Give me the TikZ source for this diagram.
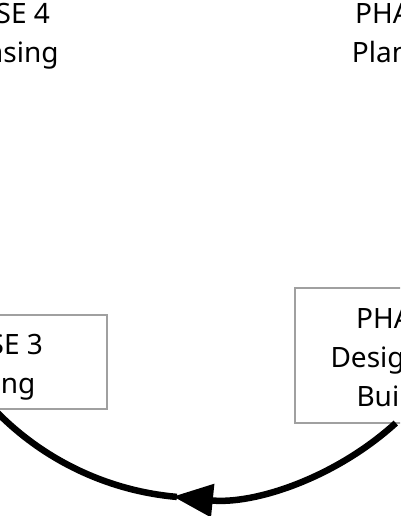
\documentclass[tikz,border=0pt]{standalone}
\usepackage{fontspec}
\setmainfont{Noto Sans}
\usetikzlibrary{arrows.meta}
\definecolor{boxgray}{HTML}{A0A0A0}
\begin{document}
\begin{tikzpicture}[x=1pt,y=1pt,
  lbl/.style={align=center, font=\fontsize{28}{39}\selectfont, inner sep=0pt},
  phasebox/.style={lbl, draw=boxgray, line width=1.5pt, fill=white},
  conn/.style={line width=6.5pt, black}]
\useasboundingbox (0,0) rectangle (400,-516);
\clip (0,0) rectangle (400,-516);
\node[lbl, anchor=base] (p4) at (-5,-63) {PHASE 4\\Releasing};
\node[lbl, anchor=base] (p1) at (410,-63) {PHASE 1\\Planning};
\node[phasebox, minimum width=232pt, minimum height=135pt] (p2) at (411,-355.5) {\rule{0pt}{30pt}PHASE 2\\Designing \&\\Building};
\node[phasebox, minimum width=238pt, minimum height=94pt] (p3) at (-12,-362) {\rule{0pt}{30pt}PHASE 3\\Testing};
\coordinate (c) at (202,-210);
\draw[conn, -{Triangle[length=40pt,width=32pt]}] (c) ++(-47.7:288) arc[start angle=-47.7, end angle=-95.8, radius=288];
\draw[conn] (c) ++(-95:288) arc[start angle=-95, end angle=-137, radius=288];
\end{tikzpicture}
\end{document}
